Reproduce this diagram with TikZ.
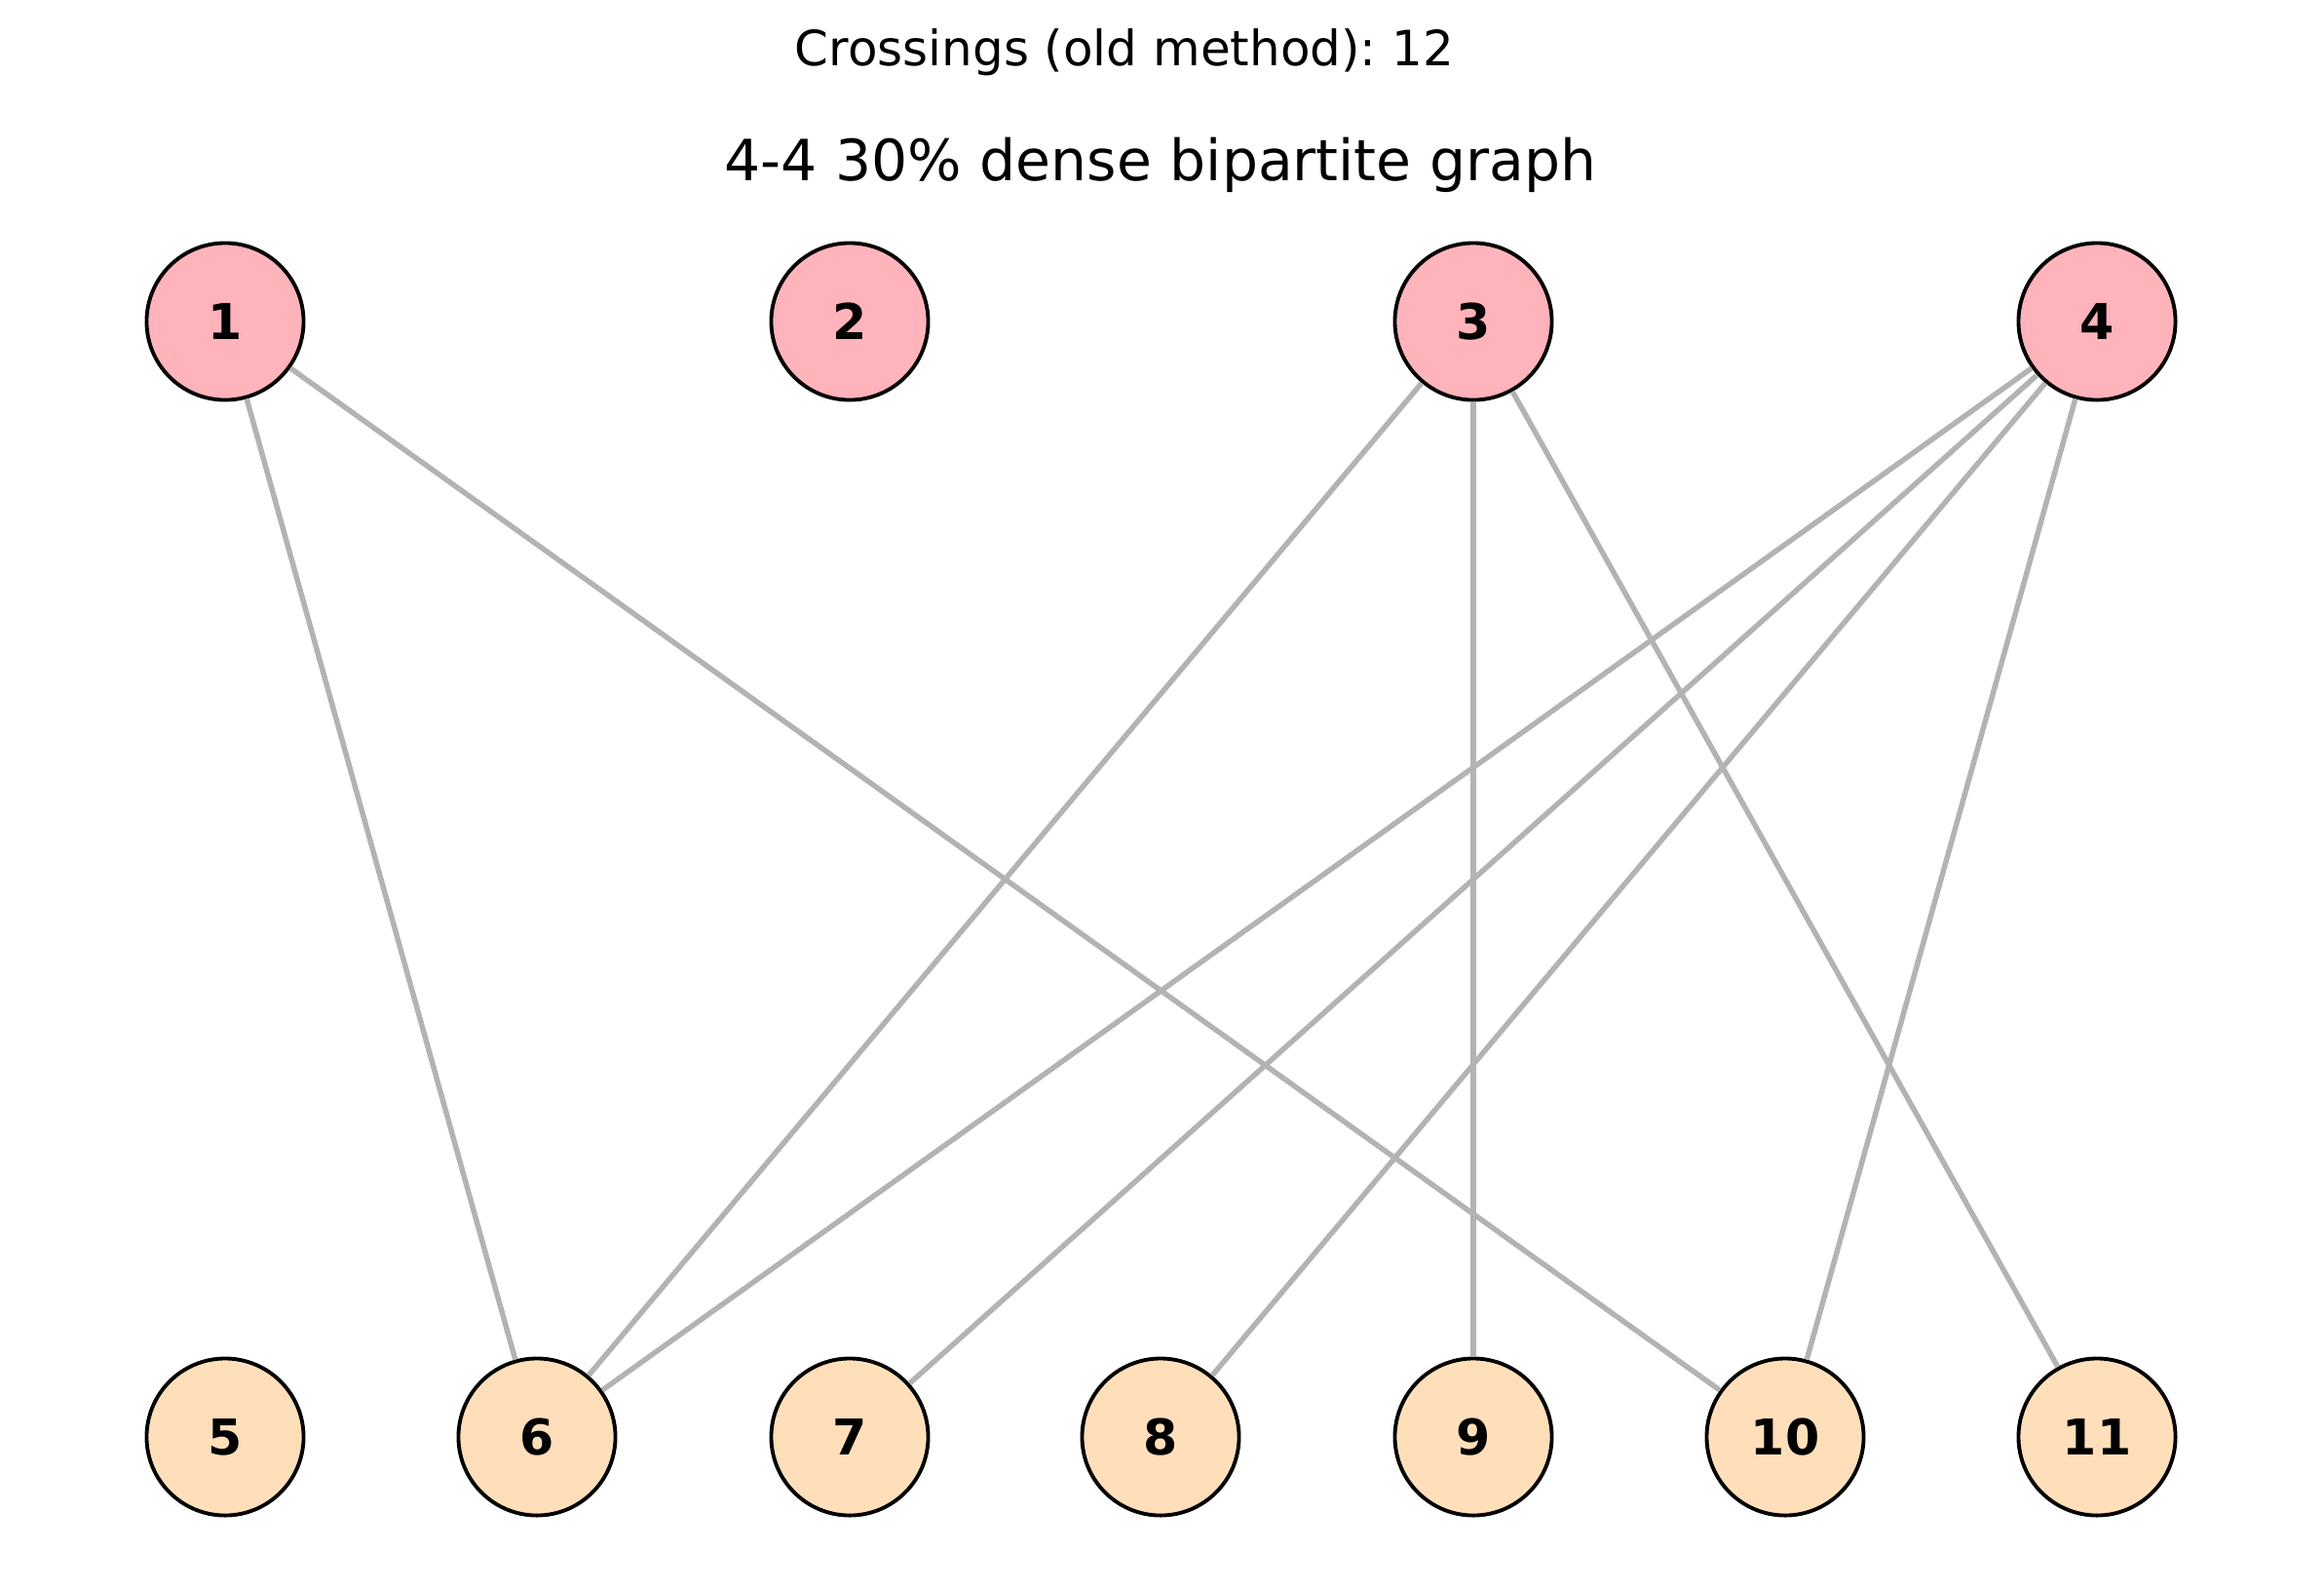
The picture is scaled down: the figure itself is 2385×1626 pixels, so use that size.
\documentclass[tikz,border=0pt]{standalone}
\usepackage{fontspec}
\setmainfont{DejaVu Sans}
\frenchspacing
\definecolor{toppink}{HTML}{FFB3BA}
\definecolor{botpeach}{HTML}{FFDFBA}
\definecolor{edgegray}{HTML}{B3B3B3}
\tikzset{
  vtx/.style={circle, draw=black, line width=1.1pt, minimum size=1.61cm, inner sep=0pt,
    font=\fontsize{14.4pt}{16pt}\selectfont\bfseries},
  topv/.style={vtx, fill=toppink},
  botv/.style={vtx, fill=botpeach},
  edg/.style={draw=edgegray, line width=1.55pt},
}
\begin{document}
\begin{tikzpicture}[x=0.01cm,y=-0.01cm]
\useasboundingbox[fill=white] (0,0) rectangle (2385,1626);
\node[anchor=base, font=\fontsize{14.2pt}{17pt}\selectfont] (sup) at (1154,67) {Crossings (old method): 12};
\node[anchor=base, font=\fontsize{16.6pt}{20pt}\selectfont] (ttl) at (1191,185) {4-4 30\% dense bipartite graph};
\node[topv] (n1) at (231,330) {1};
\node[topv] (n2) at (872,330) {2};
\node[topv] (n3) at (1512,330) {3};
\node[topv] (n4) at (2152,330) {4};
\node[botv] (n5) at (231,1475) {5};
\node[botv] (n6) at (551,1475) {6};
\node[botv] (n7) at (872,1475) {7};
\node[botv] (n8) at (1191,1475) {8};
\node[botv] (n9) at (1512,1475) {9};
\node[botv] (n10) at (1832,1475) {10};
\node[botv] (n11) at (2152,1475) {11};
\path[edg] (n1) -- (n6);
\path[edg] (n1) -- (n10);
\path[edg] (n3) -- (n6);
\path[edg] (n3) -- (n9);
\path[edg] (n3) -- (n11);
\path[edg] (n4) -- (n6);
\path[edg] (n4) -- (n7);
\path[edg] (n4) -- (n8);
\path[edg] (n4) -- (n10);
\end{tikzpicture}
\end{document}
